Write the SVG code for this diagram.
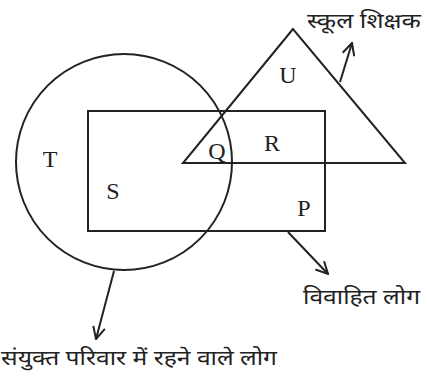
<svg xmlns="http://www.w3.org/2000/svg" width="428" height="376" viewBox="0 0 428 376">
<style>
.s{fill:none;stroke:#222;stroke-width:2}
.l{font-family:"Liberation Serif","Times New Roman",serif;font-size:24px;fill:#222;text-anchor:middle}
.h{font-family:"Noto Sans Devanagari","Noto Sans",sans-serif;font-size:20px;fill:#222}
</style>
<defs>
<marker id="a" viewBox="0 0 14 14" refX="13" refY="7" markerWidth="14" markerHeight="14" markerUnits="userSpaceOnUse" orient="auto">
<path d="M1,1 L13,7 L1,13" fill="none" stroke="#222" stroke-width="2"/>
</marker>
</defs>
<rect width="428" height="376" fill="#fff"/>
<g id="circle"><circle class="s" cx="124" cy="162" r="108"/></g>
<g id="rect"><rect class="s" x="88" y="111" width="237" height="120"/></g>
<g id="triangle"><polygon class="s" points="293,29 183,163 405,163"/></g>
<g id="connectors">
<line class="s" x1="340" y1="82" x2="352" y2="43" marker-end="url(#a)"/>
<line class="s" x1="288" y1="232" x2="328" y2="274" marker-end="url(#a)"/>
<line class="s" x1="114" y1="271" x2="96" y2="339" marker-end="url(#a)"/>
</g>
<g id="labels">
<text class="l" x="50" y="167">T</text>
<text class="l" x="113" y="199">S</text>
<text class="l" x="288" y="83">U</text>
<text class="l" x="217" y="159">Q</text>
<text class="l" x="272" y="151">R</text>
<text class="l" x="304" y="216">P</text>
</g>
<g id="captions">
<text class="h" x="307" y="28" textLength="114" lengthAdjust="spacingAndGlyphs">स्कूल शिक्षक</text>
<text class="h" x="303" y="304" textLength="117" lengthAdjust="spacingAndGlyphs">विवाहित लोग</text>
<text class="h" x="1" y="365" textLength="276" lengthAdjust="spacingAndGlyphs">संयुक्त परिवार में रहने वाले लोग</text>
</g>
</svg>
